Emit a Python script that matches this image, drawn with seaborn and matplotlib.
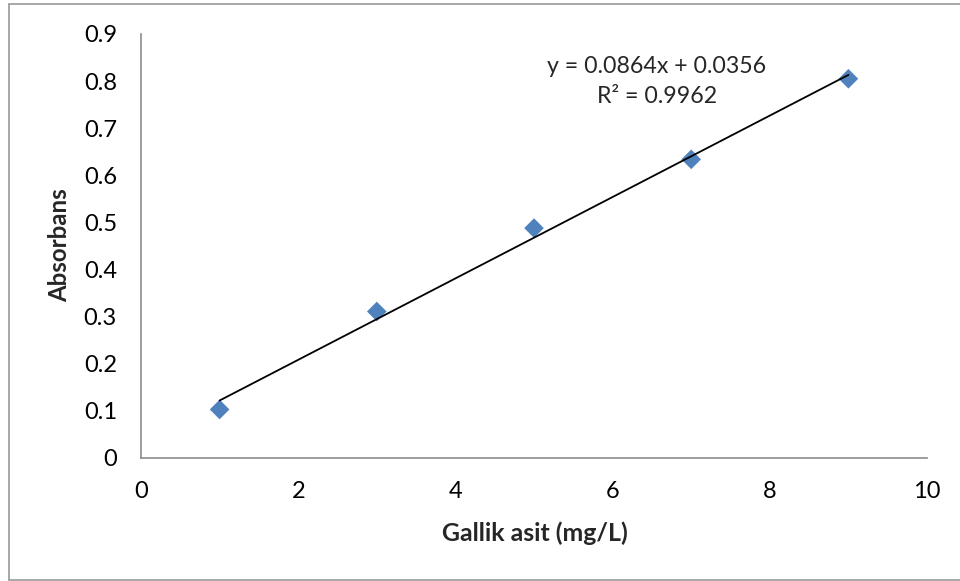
import numpy as np
import pandas as pd
import matplotlib
matplotlib.use("Agg")
import matplotlib.pyplot as plt
from matplotlib.lines import Line2D
import seaborn as sns

# data
concentration = [1, 3, 5, 7, 9]
absorbance = [0.103, 0.311, 0.488, 0.634, 0.805]
fit_slope = 0.0864
fit_intercept = 0.0356
equation_text = "y = 0.0864x + 0.0356"
r2_text = "R² = 0.9962"
x_ticks = [0, 2, 4, 6, 8, 10]
y_ticks = [0, 0.1, 0.2, 0.3, 0.4, 0.5, 0.6, 0.7, 0.8, 0.9]
x_label = "Gallik asit (mg/L)"
y_label = "Absorbans"

sns.set_style("white")
plt.rcParams["font.family"] = ["Lato", "DejaVu Sans"]

W, H = 960, 581
fig = plt.figure(figsize=(W / 100, H / 100), dpi=100)
ax = fig.add_axes([141 / W, (H - 458) / H, (927 - 141) / W, (458 - 34) / H])

df = pd.DataFrame({"x": concentration, "y": absorbance})
fit_x = [min(concentration), max(concentration)]
fit_df = pd.DataFrame({"x": fit_x, "y": [fit_slope * v + fit_intercept for v in fit_x]})

sns.lineplot(data=fit_df, x="x", y="y", ax=ax, color="black", linewidth=1.3, zorder=3)
sns.scatterplot(data=df, x="x", y="y", ax=ax, marker="D", s=100, color="#4F81BD",
                edgecolor="none", zorder=2)

ax.set_xlim(0, 10)
ax.set_ylim(0, 0.9)
ax.set_xticks(x_ticks)
ax.set_xticklabels([str(v) for v in x_ticks])
ax.set_yticks(y_ticks)
ax.set_yticklabels(["0" if v == 0 else f"{v:.1f}" for v in y_ticks])

grey = "#8C8C8C"
for s in ["top", "right"]:
    ax.spines[s].set_visible(False)
for s in ["left", "bottom"]:
    ax.spines[s].set_color(grey)
    ax.spines[s].set_linewidth(1.2)
ax.tick_params(axis="both", which="major", direction="out", length=6.3, width=1.2,
               color=grey, labelsize=17, labelcolor="black")
ax.tick_params(axis="x", pad=10)
ax.tick_params(axis="y", pad=11)

xl = ax.set_xlabel(x_label, fontsize=15, fontweight="bold", va="center", ha="center")
yl = ax.set_ylabel(y_label, fontsize=15, fontweight="bold", va="center", ha="center")
ax.xaxis.set_label_coords((535 - 141) / 786, (458 - 533) / 424)
ax.yaxis.set_label_coords((60 - 141) / 786, (458 - 245) / 424)

t1 = ax.text(6.565, 0.832, equation_text, ha="center", va="center", fontsize=16)
t2 = ax.text(6.565, 0.768, r2_text, ha="center", va="center", fontsize=16)

# scale text so rendered sizes match the reference
renderer = fig.canvas.get_renderer()
def fit(artist, target, vertical=False):
    bb = artist.get_window_extent(renderer)
    cur = bb.height if vertical else bb.width
    artist.set_fontsize(artist.get_fontsize() * target / cur)

fit(xl, 186)
fit(yl, 114, vertical=True)
fit(t1, 220)
fit(t2, 120)

# outer border (chart area)
bc = "#A0A0A0"
fig.add_artist(Line2D([9 / W, 9 / W], [1 - 4 / H, 1 - 580 / H], color=bc, lw=1.3, transform=fig.transFigure))
fig.add_artist(Line2D([9 / W, 1.01], [1 - 4 / H, 1 - 4 / H], color=bc, lw=1.3, transform=fig.transFigure))
fig.add_artist(Line2D([9 / W, 1.01], [1 - 579.5 / H, 1 - 579.5 / H], color=bc, lw=1.3, transform=fig.transFigure))

fig.savefig("out.png", dpi=100)
